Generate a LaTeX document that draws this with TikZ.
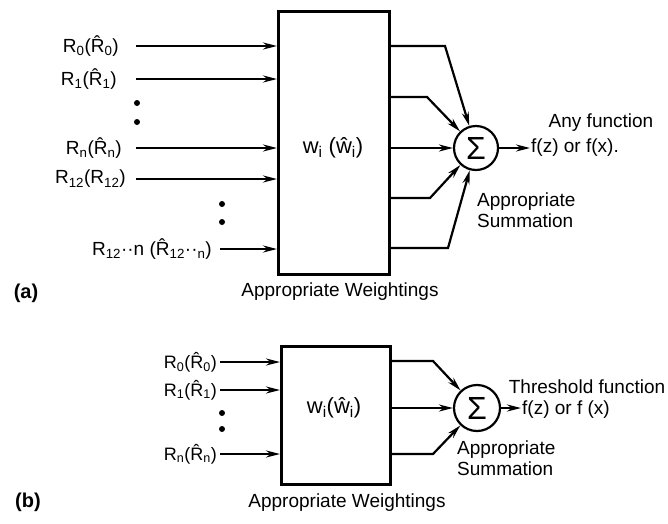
\documentclass[tikz,border=0pt]{standalone}
\usepackage{fontspec}
\setmainfont{Liberation Sans}
\usetikzlibrary{arrows.meta}
\newcommand{\sbs}[1]{\textsubscript{#1}}
\newcommand{\hR}{\^{R}}
\begin{document}
\begin{tikzpicture}[x=1pt,y=-1pt,
  lbl/.style={font=\fontsize{19}{22}\selectfont, inner sep=1pt},
  lblb/.style={font=\fontsize{18}{20}\selectfont, inner sep=1pt},
  wlbl/.style={font=\fontsize{22}{24}\selectfont, inner sep=1pt},
  lett/.style={font=\bfseries\fontsize{20}{22}\selectfont, inner sep=1pt},
  sumtxt/.style={font=\fontsize{19}{21}\selectfont, inner sep=1pt, align=left, anchor=north west},
  wbox/.style={draw, line width=3pt},
  conn/.style={line width=2.2pt, -{Stealth[length=14pt,width=7pt]}},
  sumc/.style={draw, circle, line width=2.2pt, minimum size=44pt, inner sep=0pt, font=\fontsize{32}{32}\selectfont},
  dotf/.style={fill, circle, inner sep=0pt, minimum size=6pt}]
\useasboundingbox (0,0) rectangle (668,523);

% ---------------- (a) ----------------
\node[wbox, minimum width=111pt, minimum height=263pt, anchor=north west, inner sep=0pt] (A) at (277,10) {};
\node[wlbl] (wa) at (333,148) {w\sbs{i} (\^{w}\sbs{i})};

\node[lbl, anchor=east] (r0) at (120,46) {R\sbs{0}(\hR\sbs{0})};
\node[lbl, anchor=east] (r1) at (118,79) {R\sbs{1}(\hR\sbs{1})};
\node[lbl, anchor=east] (rn) at (123,148) {R\sbs{n}(\hR\sbs{n})};
\node[lbl, anchor=east] (r12) at (127,179) {R\sbs{12}(R\sbs{12})};
\node[lbl, anchor=east] (r12n) at (213,249) {R\sbs{12}··n (\hR\sbs{12}··\sbs{n})};

\coordinate (i0) at (136,46);
\coordinate (i1) at (136,79);
\coordinate (in) at (136,148);
\coordinate (i12) at (136,179);
\coordinate (i12n) at (220,249);
\draw[conn] (i0) -- (i0 -| A.west);
\draw[conn] (i1) -- (i1 -| A.west);
\draw[conn] (in) -- (in -| A.west);
\draw[conn] (i12) -- (i12 -| A.west);
\draw[conn] (i12n) -- (i12n -| A.west);

\node[dotf] (d1) at (137,103) {};
\node[dotf] (d2) at (137,122) {};
\node[dotf] (d3) at (222,204) {};
\node[dotf] (d4) at (222,222) {};

\node[sumc] (S) at (476,148) {Σ};

\coordinate (o1) at (388,46);  \coordinate (b1) at (445,46);
\coordinate (o2) at (388,97);  \coordinate (b2) at (427,97);
\coordinate (o3) at (388,148);
\coordinate (o4) at (388,198); \coordinate (b4) at (430,198);
\coordinate (o5) at (388,248); \coordinate (b5) at (448,248);
\draw[conn] (o1) -- (b1) -- (S);
\draw[conn] (o2) -- (b2) -- (S);
\draw[conn] (o3) -- (S);
\draw[conn] (o4) -- (b4) -- (S);
\draw[conn] (o5) -- (b5) -- (S);

\coordinate (fa) at (530,148);
\draw[conn] (S) -- (fa);
\node[lbl] (anyf) at (601,123) {Any function};
\node[lbl, anchor=west] (fza) at (530,148) {f(z) or f(x).};
\node[sumtxt] (suma) at (476,192) {Appropriate\\Summation};
\node[lbl] (wgta) at (340,292) {Appropriate Weightings};
\node[lett] (la) at (26,293) {(a)};

% ---------------- (b) ----------------
\node[wbox, minimum width=109pt, minimum height=138pt, anchor=north west, inner sep=0pt] (B) at (280,345) {};
\node[wlbl] (wb) at (334,408) {w\sbs{i}(\^{w}\sbs{i})};

\node[lblb, anchor=east] (q0) at (218,362) {R\sbs{0}(\hR\sbs{0})};
\node[lblb, anchor=east] (q1) at (218,390) {R\sbs{1}(\hR\sbs{1})};
\node[lblb, anchor=east] (qn) at (218,454) {R\sbs{n}(\hR\sbs{n})};

\coordinate (j0) at (220,362);
\coordinate (j1) at (220,390);
\coordinate (jn) at (220,454);
\draw[conn] (j0) -- (j0 -| B.west);
\draw[conn] (j1) -- (j1 -| B.west);
\draw[conn] (jn) -- (jn -| B.west);

\node[dotf] (e1) at (222,413) {};
\node[dotf] (e2) at (222,429) {};

\node[sumc, minimum size=46pt] (T) at (477,408) {Σ};
\coordinate (p1) at (389,361); \coordinate (c1) at (433,361);
\coordinate (p2) at (389,408);
\coordinate (p3) at (389,454); \coordinate (c3) at (433,454);
\draw[conn] (p1) -- (c1) -- (T);
\draw[conn] (p2) -- (T);
\draw[conn] (p3) -- (c3) -- (T);

\coordinate (fb) at (521,408);
\draw[conn] (T) -- (fb);
\node[lbl] (thr) at (587,387) {Threshold function};
\node[lbl, anchor=west] (fzb) at (521,410) {f(z) or f (x)};
\node[sumtxt] (sumb) at (456,440) {Appropriate\\Summation};
\node[lbl] (wgtb) at (347,503) {Appropriate Weightings};
\node[lett] (lb) at (28,502) {(b)};
\end{tikzpicture}
\end{document}
